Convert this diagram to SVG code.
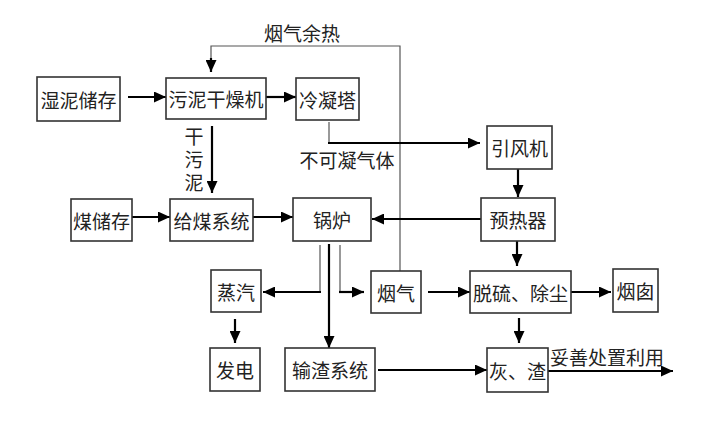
<svg xmlns="http://www.w3.org/2000/svg" width="704" height="425" viewBox="0 0 704 425">
<style>
text{font-family:"Noto Sans CJK SC","Noto Sans",sans-serif;font-size:19px;fill:#222;text-anchor:middle;dominant-baseline:central}
.vert{writing-mode:vertical-rl;text-anchor:start;letter-spacing:4px}
.box{fill:#fff;stroke:#333;stroke-width:1.6}
.thick{fill:none;stroke:#000;stroke-width:2.2}
.thin{fill:none;stroke:#555;stroke-width:1.2}
</style>
<defs>
<marker id="ah" markerUnits="userSpaceOnUse" markerWidth="12" markerHeight="11" refX="12" refY="5.5" orient="auto">
<path d="M0,0 L12,5.5 L0,11 z" fill="#000"/>
</marker>
</defs>
<rect width="704" height="425" fill="#fff"/>
<g id="connectors">
<path class="thin" d="M400,271 V46 H211 V60"/>
<path class="thick" d="M211,58 V72" marker-end="url(#ah)"/>
<path class="thick" d="M128,97 H166" marker-end="url(#ah)"/>
<path class="thick" d="M266,97 H296" marker-end="url(#ah)"/>
<path class="thick" d="M212,126 V193" marker-end="url(#ah)"/>
<path class="thin" d="M329,122 V143"/>
<path class="thick" d="M328,143 H480" marker-end="url(#ah)"/>
<path class="thick" d="M518,169 V197" marker-end="url(#ah)"/>
<path class="thick" d="M481,219 H372" marker-end="url(#ah)"/>
<path class="thick" d="M132,217 H170" marker-end="url(#ah)"/>
<path class="thick" d="M253,217 H293" marker-end="url(#ah)"/>
<path class="thin" d="M320,245 V292"/>
<path class="thick" d="M321,292 H263" marker-end="url(#ah)"/>
<path class="thick" d="M329,244 V348" marker-end="url(#ah)"/>
<path class="thin" d="M340,245 V292"/>
<path class="thick" d="M339,292 H364" marker-end="url(#ah)"/>
<path class="thick" d="M235,319 V343" marker-end="url(#ah)"/>
<path class="thick" d="M428,292 H470" marker-end="url(#ah)"/>
<path class="thick" d="M517,241 V266" marker-end="url(#ah)"/>
<path class="thick" d="M571,292 H611" marker-end="url(#ah)"/>
<path class="thick" d="M519,318 V343" marker-end="url(#ah)"/>
<path class="thick" d="M378,370 H487" marker-end="url(#ah)"/>
<path class="thick" d="M548,371 H673" marker-end="url(#ah)"/>
</g>
<g id="labels">
<text x="302" y="32">烟气余热</text>
<text x="347" y="159">不可凝气体</text>
<text class="vert" x="194" y="127">干污泥</text>
<text x="607" y="356">妥善处置利用</text>
</g>
<g id="n-shinichu"><rect class="box" x="37" y="77" width="83" height="44"/><text x="78.5" y="99">湿泥储存</text></g>
<g id="n-ganzao"><rect class="box" x="166" y="78" width="100" height="41"/><text x="216" y="98.5">污泥干燥机</text></g>
<g id="n-lengning"><rect class="box" x="296" y="78" width="63" height="42"/><text x="327.5" y="99">冷凝塔</text></g>
<g id="n-yinfeng"><rect class="box" x="487" y="126" width="65" height="43"/><text x="519.5" y="147.5">引风机</text></g>
<g id="n-meichu"><rect class="box" x="71" y="199" width="61" height="42"/><text x="101.5" y="220">煤储存</text></g>
<g id="n-geimei"><rect class="box" x="170" y="199" width="83" height="42"/><text x="211.5" y="220">给煤系统</text></g>
<g id="n-guolu"><rect class="box" x="293" y="198" width="78" height="43"/><text x="332" y="219.5">锅炉</text></g>
<g id="n-yure"><rect class="box" x="481" y="198" width="74" height="43"/><text x="518" y="219.5">预热器</text></g>
<g id="n-zhengqi"><rect class="box" x="211" y="270" width="50" height="42"/><text x="236" y="291">蒸汽</text></g>
<g id="n-yanqi"><rect class="box" x="371" y="271" width="50" height="42"/><text x="396" y="292">烟气</text></g>
<g id="n-tuoliu"><rect class="box" x="470" y="271" width="101" height="42"/><text x="520.5" y="292">脱硫、除尘</text></g>
<g id="n-yancong"><rect class="box" x="613" y="269" width="45" height="43"/><text x="635.5" y="290.5">烟囱</text></g>
<g id="n-fadian"><rect class="box" x="210" y="348" width="50" height="43"/><text x="235" y="369.5">发电</text></g>
<g id="n-shuzha"><rect class="box" x="285" y="348" width="90" height="43"/><text x="330" y="369.5">输渣系统</text></g>
<g id="n-huizha"><rect class="box" x="487" y="348" width="61" height="44"/><text x="517.5" y="370">灰、渣</text></g>
</svg>
